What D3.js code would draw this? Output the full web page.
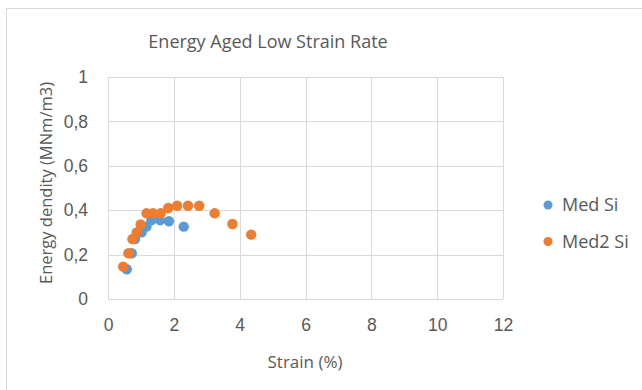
<!DOCTYPE html>
<html>
<head>
<meta charset="utf-8">
<script src="https://cdn.jsdelivr.net/npm/d3@7"></script>
<style>
  body { margin: 0; background: #fff; }
  svg { font-family: "Open Sans", "Noto Sans", sans-serif; }
</style>
</head>
<body>
<div id="chart"></div>
<script>
// data
const medSiX = [0.57, 0.72, 0.82, 1.02, 1.17, 1.32, 1.58, 1.85, 2.3];
const medSiY = [0.134, 0.206, 0.27, 0.30, 0.326, 0.355, 0.355, 0.35, 0.326];
const med2SiX = [0.46, 0.62, 0.74, 0.87, 0.99, 1.17, 1.37, 1.6, 1.83, 2.1, 2.43, 2.77, 3.24, 3.78, 4.35];
const med2SiY = [0.146, 0.206, 0.27, 0.30, 0.336, 0.386, 0.386, 0.386, 0.41, 0.42, 0.42, 0.42, 0.386, 0.338, 0.29];
const xTicks = [0, 2, 4, 6, 8, 10, 12];
const yTicks = [0, 0.2, 0.4, 0.6, 0.8, 1];
const seriesNames = ['Med Si', 'Med2 Si'];
const seriesColors = ['#5b9bd5', '#ed7d31'];

const W = 642, H = 390;
const plot = { left: 108, right: 503, top: 77, bottom: 299 };
const textColor = '#595959';

const svg = d3.select('#chart').append('svg')
  .attr('width', W)
  .attr('height', H);

/* chart frame */
svg.append('rect')
  .attr('x', 6.5).attr('y', 8.5)
  .attr('width', W + 10).attr('height', H + 10)
  .attr('fill', '#fff')
  .attr('stroke', '#d9d9d9');

const x = d3.scaleLinear().domain([0, 12]).range([plot.left, plot.right]);
const y = d3.scaleLinear().domain([0, 1]).range([plot.bottom, plot.top]);

/* gridlines */
const grid = svg.append('g').attr('class', 'grid');
grid.selectAll('.vg').data(xTicks).enter().append('line')
  .attr('x1', d => Math.round(x(d)) + 0.5).attr('x2', d => Math.round(x(d)) + 0.5)
  .attr('y1', plot.top).attr('y2', plot.bottom)
  .attr('stroke', '#d9d9d9');
grid.selectAll('.hg').data(yTicks).enter().append('line')
  .attr('x1', plot.left).attr('x2', plot.right)
  .attr('y1', d => Math.round(y(d)) + 0.5).attr('y2', d => Math.round(y(d)) + 0.5)
  .attr('stroke', '#d9d9d9');

/* axes (labels only) */
const fmt = d => String(d).replace('.', ',');
const xAxis = svg.append('g')
  .attr('transform', `translate(0, ${plot.bottom + 20})`)
  .call(d3.axisBottom(x).tickValues(xTicks).tickSize(0).tickFormat(fmt));
const yAxis = svg.append('g')
  .attr('transform', `translate(${plot.left - 20}, 0)`)
  .call(d3.axisLeft(y).tickValues(yTicks).tickSize(0).tickFormat(fmt));
[xAxis, yAxis].forEach(a => {
  a.select('.domain').remove();
  a.selectAll('text')
    .attr('fill', textColor)
    .style('font-size', '17.5px');
});
xAxis.selectAll('text').attr('y', 0).attr('dy', '0.71em');
yAxis.selectAll('text').attr('x', 0);

/* points */
const series = [
  { name: seriesNames[0], xs: medSiX, ys: medSiY, color: seriesColors[0] },
  { name: seriesNames[1], xs: med2SiX, ys: med2SiY, color: seriesColors[1] }
];
series.forEach(s => {
  svg.append('g').selectAll('circle')
    .data(s.xs.map((v, i) => ({ x: v, y: s.ys[i] })))
    .enter().append('circle')
    .attr('cx', d => x(d.x))
    .attr('cy', d => y(d.y))
    .attr('r', 5.2)
    .attr('fill', s.color);
});

/* title + axis titles */
svg.append('text')
  .attr('x', 268).attr('y', 48)
  .attr('text-anchor', 'middle')
  .attr('fill', textColor)
  .style('font-size', '18px')
  .text('Energy Aged Low Strain Rate');

svg.append('text')
  .attr('x', 305).attr('y', 368)
  .attr('text-anchor', 'middle')
  .attr('fill', textColor)
  .style('font-size', '17px')
  .text('Strain (%)');

svg.append('text')
  .attr('transform', 'translate(52, 183) rotate(-90)')
  .attr('text-anchor', 'middle')
  .attr('fill', textColor)
  .style('font-size', '16.5px')
  .text('Energy dendity (MNm/m3)');

/* legend */
const legend = svg.append('g').selectAll('g')
  .data(series)
  .enter().append('g')
  .attr('transform', (d, i) => `translate(548, ${205 + i * 36.5})`);
legend.append('circle')
  .attr('r', 4.5)
  .attr('fill', d => d.color);
legend.append('text')
  .attr('x', 14).attr('dy', '0.35em')
  .attr('fill', textColor)
  .style('font-size', '18px')
  .text(d => d.name);
</script>
</body>
</html>
